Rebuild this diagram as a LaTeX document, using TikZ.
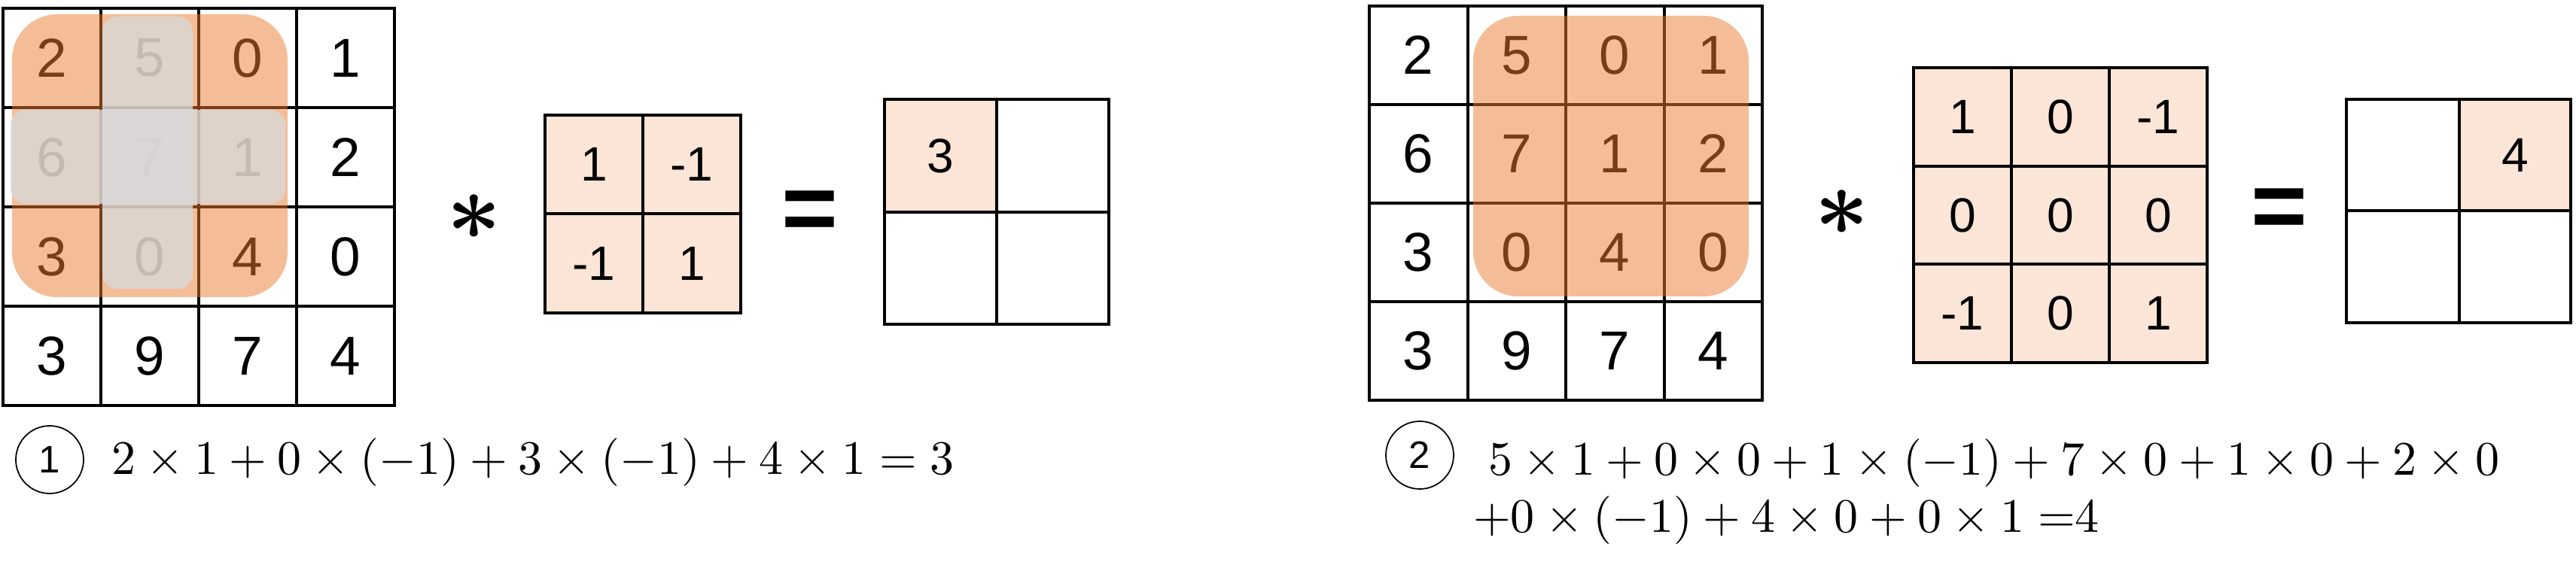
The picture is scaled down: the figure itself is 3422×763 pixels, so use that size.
\documentclass[tikz,border=0pt]{standalone}
\usepackage{graphicx}
\usepackage{fontspec}
\setsansfont{Liberation Sans}
\definecolor{kfill}{HTML}{FBE5D6}
\definecolor{ovor}{HTML}{ED7D31}
\definecolor{ovgr}{HTML}{D9D9D9}
\newcommand{\eqscale}[1]{\scalebox{3.642}{$#1$}}
\tikzset{
  every node/.style={inner sep=0pt, outer sep=0pt},
  gline/.style={line width=0.08cm, line cap=rect},
  bignum/.style={font=\fontsize{41.5}{50}\selectfont\sffamily},
  smallnum/.style={font=\fontsize{36.5}{44}\selectfont\sffamily},
  orover/.style={fill=ovor, fill opacity=0.5, rounded corners=1.2cm},
  grover/.style={fill=ovgr, fill opacity=0.8, rounded corners=0.4cm},
  eqsym/.style={font=\fontsize{73}{80}\selectfont\sffamily\bfseries},
  eqtext/.style={anchor=base west},
  circnum/.style={circle, draw, line width=1pt, minimum size=1.8cm, font=\fontsize{29}{34}\selectfont\sffamily},
}
\begin{document}
\begin{tikzpicture}[x=0.02cm, y=-0.02cm]
\path[use as bounding box, fill=white] (0,0) rectangle (3422,763);

% ---------- left input grid ----------
\foreach \row [count=\r] in {{2,5,0,1},{6,7,1,2},{3,0,4,0},{3,9,7,4}} {
  \foreach \v [count=\c] in \row {
    \node[bignum] (L\r\c) at ({4+130*(\c-0.5)},{11+132*(\r-0.5)}) {\v};
  }
}
\draw[gline] (4,11) rectangle (524,539);
\foreach \x in {134,264,394} \draw[gline] (\x,11) -- (\x,539);
\foreach \y in {143,275,407} \draw[gline] (4,\y) -- (524,\y);
\fill[orover] (16,19) rectangle (382,395);
\fill[grover] (136,22) rectangle (256,384);
\fill[grover] (14,146) rectangle (379,271);

\node (ast1) at (630,289) {\scalebox{7.2}{\boldmath$\ast$}};

% ---------- left kernel ----------
\fill[kfill] (724,153) rectangle (984,416);
\foreach \row [count=\r] in {{1,-1},{-1,1}} {
  \foreach \v [count=\c] in \row {
    \node[smallnum] (K\r\c) at ({724+130*(\c-0.5)},{153+131.5*(\r-0.5)}) {\v};
  }
}
\draw[gline] (724,153) rectangle (984,416);
\draw[gline] (854,153) -- (854,416);
\draw[gline] (724,284.5) -- (984,284.5);

\node[eqsym] (eq1) at (1075.5,287) {=};

% ---------- left output ----------
\fill[kfill] (1175,132) rectangle (1324,282);
\node[smallnum] (O11) at (1249.5,207) {3};
\draw[gline] (1175,132) rectangle (1473,431);
\draw[gline] (1324,132) -- (1324,431);
\draw[gline] (1175,282) -- (1473,282);

% ---------- right input grid ----------
\foreach \row [count=\r] in {{2,5,0,1},{6,7,1,2},{3,0,4,0},{3,9,7,4}} {
  \foreach \v [count=\c] in \row {
    \node[bignum] (R\r\c) at ({1819+130.5*(\c-0.5)},{8+131*(\r-0.5)}) {\v};
  }
}
\draw[gline] (1819,8) rectangle (2341,532);
\foreach \x in {1949.5,2080,2210.5} \draw[gline] (\x,8) -- (\x,532);
\foreach \y in {139,270,401} \draw[gline] (1819,\y) -- (2341,\y);
\fill[orover] (1957,21) rectangle (2323,394);

\node (ast2) at (2447,283) {\scalebox{7.2}{\boldmath$\ast$}};

% ---------- right kernel ----------
\fill[kfill] (2542,90) rectangle (2932,482);
\foreach \row [count=\r] in {{1,0,-1},{0,0,0},{-1,0,1}} {
  \foreach \v [count=\c] in \row {
    \node[smallnum] (Q\r\c) at ({2542+130*(\c-0.5)},{90+130.67*(\r-0.5)}) {\v};
  }
}
\draw[gline] (2542,90) rectangle (2932,482);
\foreach \x in {2672,2802} \draw[gline] (\x,90) -- (\x,482);
\foreach \y in {221,351} \draw[gline] (2542,\y) -- (2932,\y);

\node[eqsym] (eq2) at (3027.5,284) {=};

% ---------- right output ----------
\fill[kfill] (3267,132) rectangle (3415,280);
\node[smallnum] (P12) at (3341,206) {4};
\draw[gline] (3117,132) rectangle (3415,429);
\draw[gline] (3267,132) -- (3267,429);
\draw[gline] (3117,280) -- (3415,280);

% ---------- equations ----------
\node[circnum] (c1) at (66,611) {1};
\node[eqtext] (e1) at (148,630) {\eqscale{2\times1+0\times(-1)+3\times(-1)+4\times1=3}};

\node[circnum] (c2) at (1886,605) {2};
\node[eqtext] (e2a) at (1977,631) {\eqscale{5\times1+0\times0+1\times(-1)+7\times0+1\times0+2\times0}};
\node[eqtext] (e2b) at (1957,707) {\eqscale{+0\times(-1)+4\times0+0\times1\;{=}4}};
\end{tikzpicture}
\end{document}
